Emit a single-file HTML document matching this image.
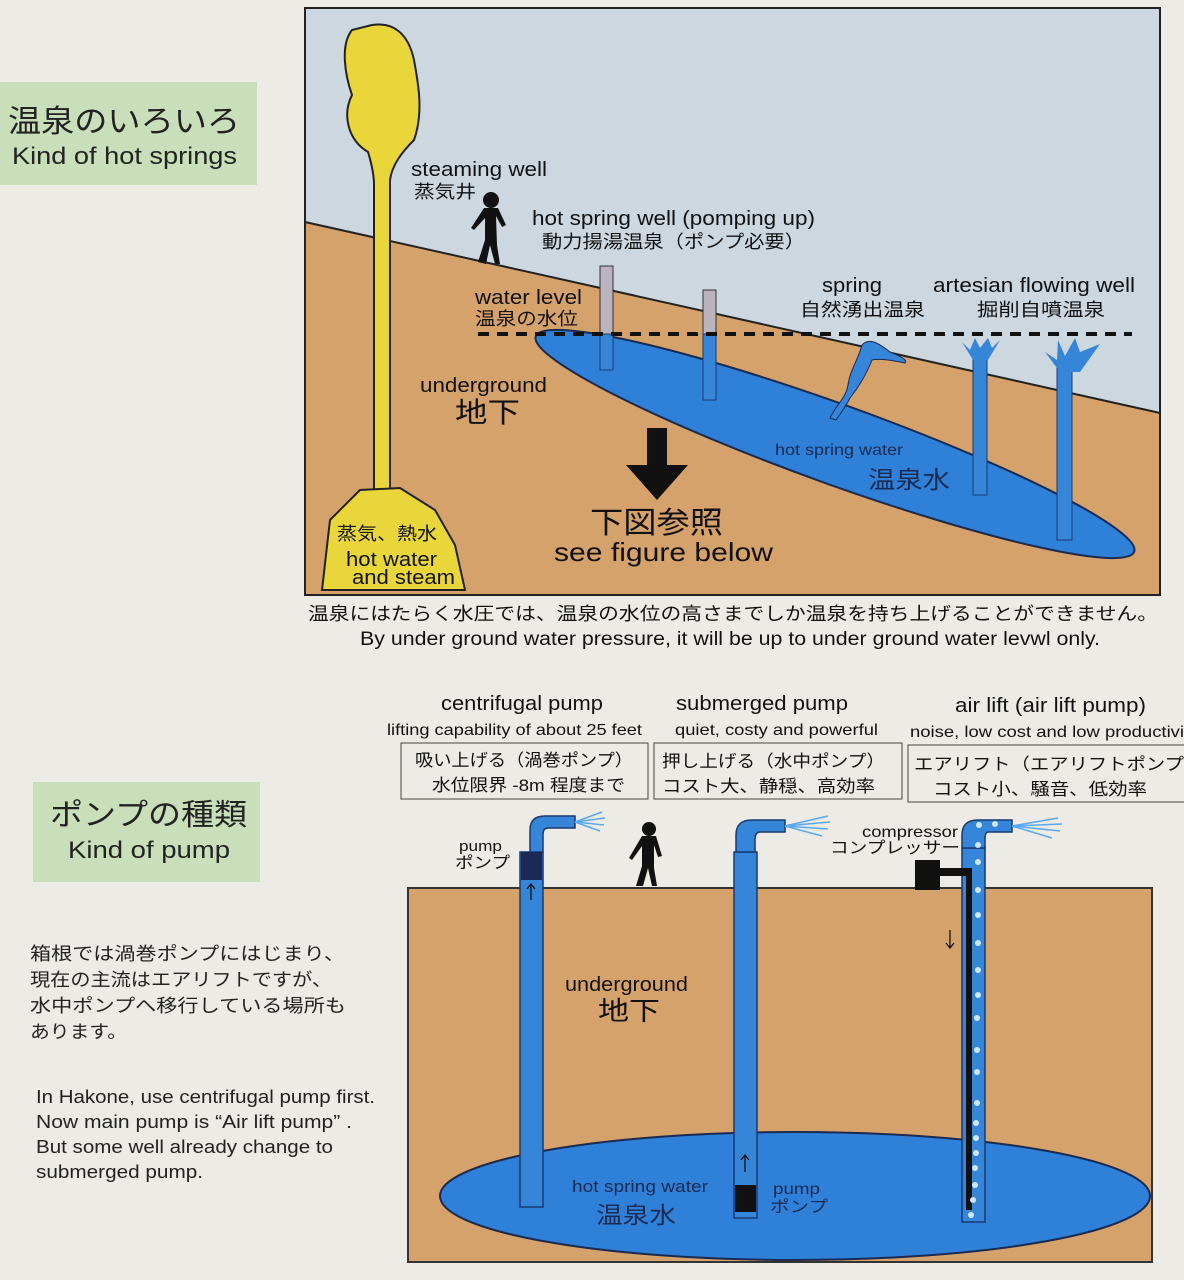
<!DOCTYPE html>
<html><head><meta charset="utf-8"><style>
html,body{margin:0;padding:0;background:#ecebe5;}
svg{display:block;font-family:"Liberation Sans","Noto Sans CJK JP",sans-serif;}
</style></head><body>
<svg width="1184" height="1280" viewBox="0 0 1184 1280" xmlns="http://www.w3.org/2000/svg">
<rect width="1184" height="1280" fill="#ecebe5"/>
<!-- left labels -->
<rect x="0" y="82" width="257" height="103" fill="#c9dfb9"/>
<text x="8" y="132" font-size="31" fill="#222" textLength="232" lengthAdjust="spacingAndGlyphs">温泉のいろいろ</text>
<text x="12" y="164" font-size="24" fill="#222" textLength="225" lengthAdjust="spacingAndGlyphs">Kind of hot springs</text>
<rect x="33" y="782" width="227" height="100" fill="#c9dfb9"/>
<text x="50" y="825" font-size="30" fill="#222" textLength="197" lengthAdjust="spacingAndGlyphs">ポンプの種類</text>
<text x="68" y="858" font-size="24" fill="#222" textLength="162" lengthAdjust="spacingAndGlyphs">Kind of pump</text>
<g font-size="18" fill="#222">
<text x="30" y="960" textLength="315" lengthAdjust="spacingAndGlyphs">箱根では渦巻ポンプにはじまり、</text>
<text x="30" y="986" textLength="302" lengthAdjust="spacingAndGlyphs">現在の主流はエアリフトですが、</text>
<text x="30" y="1012" textLength="316" lengthAdjust="spacingAndGlyphs">水中ポンプへ移行している場所も</text>
<text x="30" y="1038" textLength="97" lengthAdjust="spacingAndGlyphs">あります。</text>
<text x="36" y="1103" textLength="339" lengthAdjust="spacingAndGlyphs">In Hakone, use centrifugal pump first.</text>
<text x="36" y="1128" textLength="316" lengthAdjust="spacingAndGlyphs">Now main pump is “Air lift pump” .</text>
<text x="36" y="1153" textLength="297" lengthAdjust="spacingAndGlyphs">But some well already change to</text>
<text x="36" y="1178" textLength="167" lengthAdjust="spacingAndGlyphs">submerged pump.</text>
</g>
<!-- TOP DIAGRAM -->
<rect x="305" y="8" width="855" height="587" fill="#cdd7e0"/>
<polygon points="305,222 1160,413 1160,595 305,595" fill="#d6a26c"/>
<line x1="305" y1="222" x2="1160" y2="413" stroke="#222" stroke-width="2"/>
<ellipse cx="835" cy="444" rx="318" ry="40" transform="rotate(19.8 835 444)" fill="#2f80d8" stroke="#1a2a50" stroke-width="2"/>
<!-- steam -->
<path d="M352,30 C340,45 345,75 352,95 C342,115 348,140 368,152 C372,165 374,175 374,185 L374,490 L390,490 L390,180 C392,165 402,152 414,140 C424,112 418,82 414,60 C408,32 392,22 372,25 Z" fill="#e8d63a" stroke="#222" stroke-width="2"/>
<polygon points="322,590 330,520 360,490 400,488 435,510 455,545 465,590" fill="#e8d63a" stroke="#222" stroke-width="2"/>
<!-- pumping wells -->
<rect x="600" y="266" width="13" height="68" fill="#bbb3bd" stroke="#333" stroke-width="1"/>
<rect x="600" y="334" width="13" height="36" fill="#3585d8" stroke="#1a3a70" stroke-width="1"/>
<rect x="703" y="290" width="13" height="44" fill="#bbb3bd" stroke="#333" stroke-width="1"/>
<rect x="703" y="334" width="13" height="66" fill="#3585d8" stroke="#1a3a70" stroke-width="1"/>
<!-- spring -->
<path d="M830,418 C836,405 846,398 848,385 C850,370 858,360 862,345 C870,336 882,346 890,352 C900,356 908,360 905,363 C895,361 880,358 872,360 C866,375 858,388 850,398 C845,408 840,414 836,420 Z" fill="#3585d8" stroke="#1a2a50" stroke-width="1"/>
<!-- artesian -->
<rect x="973" y="355" width="14" height="140" fill="#3585d8" stroke="#1a3a70" stroke-width="1"/>
<polygon points="962,342 970,350 975,338 980,348 988,338 992,348 1000,340 988,360 973,360" fill="#3585d8"/>
<rect x="1057" y="365" width="15" height="175" fill="#3585d8" stroke="#1a3a70" stroke-width="1"/>
<polygon points="1045,352 1057,360 1058,340 1065,356 1075,338 1080,352 1100,344 1080,372 1060,372" fill="#3585d8"/>
<line x1="478" y1="334" x2="1132" y2="334" stroke="#111" stroke-width="4" stroke-dasharray="11,8"/>
<!-- persons -->
<g fill="#111">
<circle cx="491" cy="200" r="8"/>
<path d="M484,208 L498,208 L506,225 L502,227 L496,216 L497,245 L500,264 L495,264 L490,245 L486,264 L478,262 L485,240 L485,218 L474,230 L471,228 Z"/>
<circle cx="649" cy="829" r="7"/>
<path d="M642,836 L656,836 L662,856 L658,857 L654,845 L654,868 L657,886 L652,886 L648,868 L643,886 L636,886 L642,866 L642,846 L632,860 L629,858 Z"/>
</g>
<!-- arrow -->
<rect x="647" y="428" width="20" height="38" fill="#111"/>
<polygon points="626,465 688,465 657,500" fill="#111"/>
<g fill="#111" lengthAdjust="spacingAndGlyphs">
<text x="411" y="176" font-size="20" textLength="136" lengthAdjust="spacingAndGlyphs">steaming well</text>
<text x="414" y="198" font-size="18" textLength="62" lengthAdjust="spacingAndGlyphs">蒸気井</text>
<text x="532" y="225" font-size="20" textLength="283" lengthAdjust="spacingAndGlyphs">hot spring well (pomping up)</text>
<text x="542" y="248" font-size="18" textLength="263" lengthAdjust="spacingAndGlyphs">動力揚湯温泉（ポンプ必要）</text>
<text x="822" y="292" font-size="20" textLength="60" lengthAdjust="spacingAndGlyphs">spring</text>
<text x="800" y="316" font-size="18" textLength="125" lengthAdjust="spacingAndGlyphs">自然湧出温泉</text>
<text x="933" y="292" font-size="20" textLength="202" lengthAdjust="spacingAndGlyphs">artesian flowing well</text>
<text x="977" y="316" font-size="18" textLength="128" lengthAdjust="spacingAndGlyphs">掘削自噴温泉</text>
<text x="475" y="304" font-size="20" textLength="107" lengthAdjust="spacingAndGlyphs">water level</text>
<text x="475" y="325" font-size="18" textLength="103" lengthAdjust="spacingAndGlyphs">温泉の水位</text>
<text x="420" y="392" font-size="20" textLength="127" lengthAdjust="spacingAndGlyphs">underground</text>
<text x="455" y="422" font-size="28" textLength="65" lengthAdjust="spacingAndGlyphs">地下</text>
<text x="775" y="455" font-size="16" fill="#1a2a50" textLength="128" lengthAdjust="spacingAndGlyphs">hot spring water</text>
<text x="868" y="488" font-size="24" fill="#1a2a50" textLength="82" lengthAdjust="spacingAndGlyphs">温泉水</text>
<text x="590" y="533" font-size="30" textLength="133" lengthAdjust="spacingAndGlyphs">下図参照</text>
<text x="554" y="561" font-size="26" textLength="219" lengthAdjust="spacingAndGlyphs">see figure below</text>
<text x="337" y="540" font-size="18" textLength="100" lengthAdjust="spacingAndGlyphs">蒸気、熱水</text>
<text x="346" y="566" font-size="20" textLength="91" lengthAdjust="spacingAndGlyphs">hot water</text>
<text x="352" y="584" font-size="20" textLength="103" lengthAdjust="spacingAndGlyphs">and steam</text>
</g>
<rect x="305" y="8" width="855" height="587" fill="none" stroke="#222" stroke-width="2"/>
<text x="308" y="620" font-size="18" fill="#111" textLength="850" lengthAdjust="spacingAndGlyphs">温泉にはたらく水圧では、温泉の水位の高さまでしか温泉を持ち上げることができません。</text>
<text x="360" y="645" font-size="19" fill="#111" textLength="740" lengthAdjust="spacingAndGlyphs">By under ground water pressure, it will be up to under ground water levwl only.</text>
<!-- table -->
<g fill="#111">
<text x="441" y="710" font-size="20" textLength="162" lengthAdjust="spacingAndGlyphs">centrifugal pump</text>
<text x="387" y="735" font-size="16" textLength="255" lengthAdjust="spacingAndGlyphs">lifting capability of about 25 feet</text>
<text x="676" y="710" font-size="20" textLength="172" lengthAdjust="spacingAndGlyphs">submerged pump</text>
<text x="675" y="735" font-size="16" textLength="203" lengthAdjust="spacingAndGlyphs">quiet, costy and powerful</text>
<text x="955" y="712" font-size="20" textLength="191" lengthAdjust="spacingAndGlyphs">air lift (air lift pump)</text>
<text x="910" y="737" font-size="16" textLength="274" lengthAdjust="spacingAndGlyphs">noise, low cost and low productivi</text>
</g>
<g fill="none" stroke="#444" stroke-width="1">
<rect x="401" y="743" width="247" height="56"/>
<rect x="654" y="743" width="248" height="56"/>
<rect x="908" y="745" width="290" height="57"/>
</g>
<g fill="#111" font-size="17">
<text x="415" y="766" textLength="218" lengthAdjust="spacingAndGlyphs">吸い上げる（渦巻ポンプ）</text>
<text x="432" y="791" textLength="193" lengthAdjust="spacingAndGlyphs">水位限界 -8m 程度まで</text>
<text x="662" y="767" textLength="223" lengthAdjust="spacingAndGlyphs">押し上げる（水中ポンプ）</text>
<text x="662" y="792" textLength="213" lengthAdjust="spacingAndGlyphs">コスト大、静穏、高効率</text>
<text x="914" y="770" textLength="270" lengthAdjust="spacingAndGlyphs">エアリフト（エアリフトポンプ</text>
<text x="933" y="795" textLength="214" lengthAdjust="spacingAndGlyphs">コスト小、騒音、低効率</text>
</g>
<!-- bottom diagram -->
<rect x="408" y="888" width="744" height="374" fill="#d6a26c" stroke="#333" stroke-width="2"/>
<ellipse cx="795" cy="1196" rx="355" ry="64" fill="#2f80d8" stroke="#1a2a50" stroke-width="2"/>
<g fill="#3585d8" stroke="#1a3a70" stroke-width="1.5">
<rect x="520" y="852" width="23" height="355"/>
<path d="M530,852 L530,830 Q530,816 545,816 L575,816 L575,828 L548,828 Q543,828 543,834 L543,852 Z"/>
<rect x="734" y="852" width="23" height="366"/>
<path d="M736,852 L736,835 Q736,820 752,820 L785,820 L785,832 L760,832 Q755,832 755,840 L755,852 Z"/>
<rect x="962" y="848" width="23" height="374"/>
<path d="M962,848 L962,835 Q962,820 978,820 L1012,820 L1012,832 L988,832 Q985,832 985,840 L985,848 Z"/>
</g>
<rect x="521" y="852" width="21" height="28" fill="#1a2a55"/>
<rect x="735" y="1185" width="21" height="27" fill="#111"/>
<rect x="915" y="860" width="25" height="30" fill="#111"/>
<rect x="938" y="868" width="32" height="8" fill="#111"/>
<rect x="966" y="868" width="6" height="342" fill="#111"/>
<g fill="#cfe6ff">
<circle cx="979" cy="825" r="3"/><circle cx="995" cy="824" r="3"/><circle cx="978" cy="845" r="3"/>
<circle cx="978" cy="862" r="3"/><circle cx="978" cy="890" r="3"/><circle cx="978" cy="915" r="3"/>
<circle cx="978" cy="943" r="3"/><circle cx="978" cy="970" r="3"/><circle cx="978" cy="995" r="3"/>
<circle cx="977" cy="1018" r="3"/><circle cx="977" cy="1050" r="3"/><circle cx="977" cy="1072" r="3"/>
<circle cx="977" cy="1103" r="3"/><circle cx="976" cy="1123" r="3"/><circle cx="976" cy="1138" r="3"/>
<circle cx="976" cy="1153" r="3"/><circle cx="975" cy="1168" r="3"/><circle cx="975" cy="1185" r="3"/>
<circle cx="973" cy="1200" r="3"/><circle cx="971" cy="1215" r="3"/>
</g>
<g stroke="#5aa8f0" stroke-width="1.5">
<line x1="575" y1="822" x2="602" y2="812"/><line x1="575" y1="822" x2="605" y2="818"/><line x1="575" y1="822" x2="604" y2="825"/><line x1="575" y1="822" x2="600" y2="831"/>
<line x1="785" y1="826" x2="828" y2="816"/><line x1="785" y1="826" x2="830" y2="822"/><line x1="785" y1="826" x2="828" y2="829"/><line x1="785" y1="826" x2="822" y2="836"/>
<line x1="1012" y1="826" x2="1058" y2="818"/><line x1="1012" y1="826" x2="1062" y2="824"/><line x1="1012" y1="826" x2="1060" y2="831"/><line x1="1012" y1="826" x2="1052" y2="838"/>
</g>
<g stroke="#111" stroke-width="1.3" fill="none">
<path d="M531,900 L531,884 M527,889 L531,884 L535,889"/>
<path d="M745,1172 L745,1155 M741,1160 L745,1155 L749,1160"/>
<path d="M950,930 L950,948 M946,943 L950,948 L954,943"/>
</g>
<g fill="#111">
<text x="459" y="851" font-size="15" textLength="43" lengthAdjust="spacingAndGlyphs">pump</text>
<text x="455" y="868" font-size="16" textLength="55" lengthAdjust="spacingAndGlyphs">ポンプ</text>
<text x="862" y="837" font-size="16" textLength="96" lengthAdjust="spacingAndGlyphs">compressor</text>
<text x="830" y="853" font-size="16" textLength="130" lengthAdjust="spacingAndGlyphs">コンプレッサー</text>
<text x="565" y="991" font-size="20" textLength="123" lengthAdjust="spacingAndGlyphs">underground</text>
<text x="598" y="1020" font-size="26" textLength="62" lengthAdjust="spacingAndGlyphs">地下</text>
<text x="773" y="1194" font-size="16" fill="#1a2a50" textLength="47" lengthAdjust="spacingAndGlyphs">pump</text>
<text x="770" y="1212" font-size="16" fill="#1a2a50" textLength="58" lengthAdjust="spacingAndGlyphs">ポンプ</text>
<text x="572" y="1192" font-size="17" fill="#1a2a50" textLength="136" lengthAdjust="spacingAndGlyphs">hot spring water</text>
<text x="596" y="1223" font-size="23" fill="#1a2a50" textLength="80" lengthAdjust="spacingAndGlyphs">温泉水</text>
</g>
</svg>
</body></html>
